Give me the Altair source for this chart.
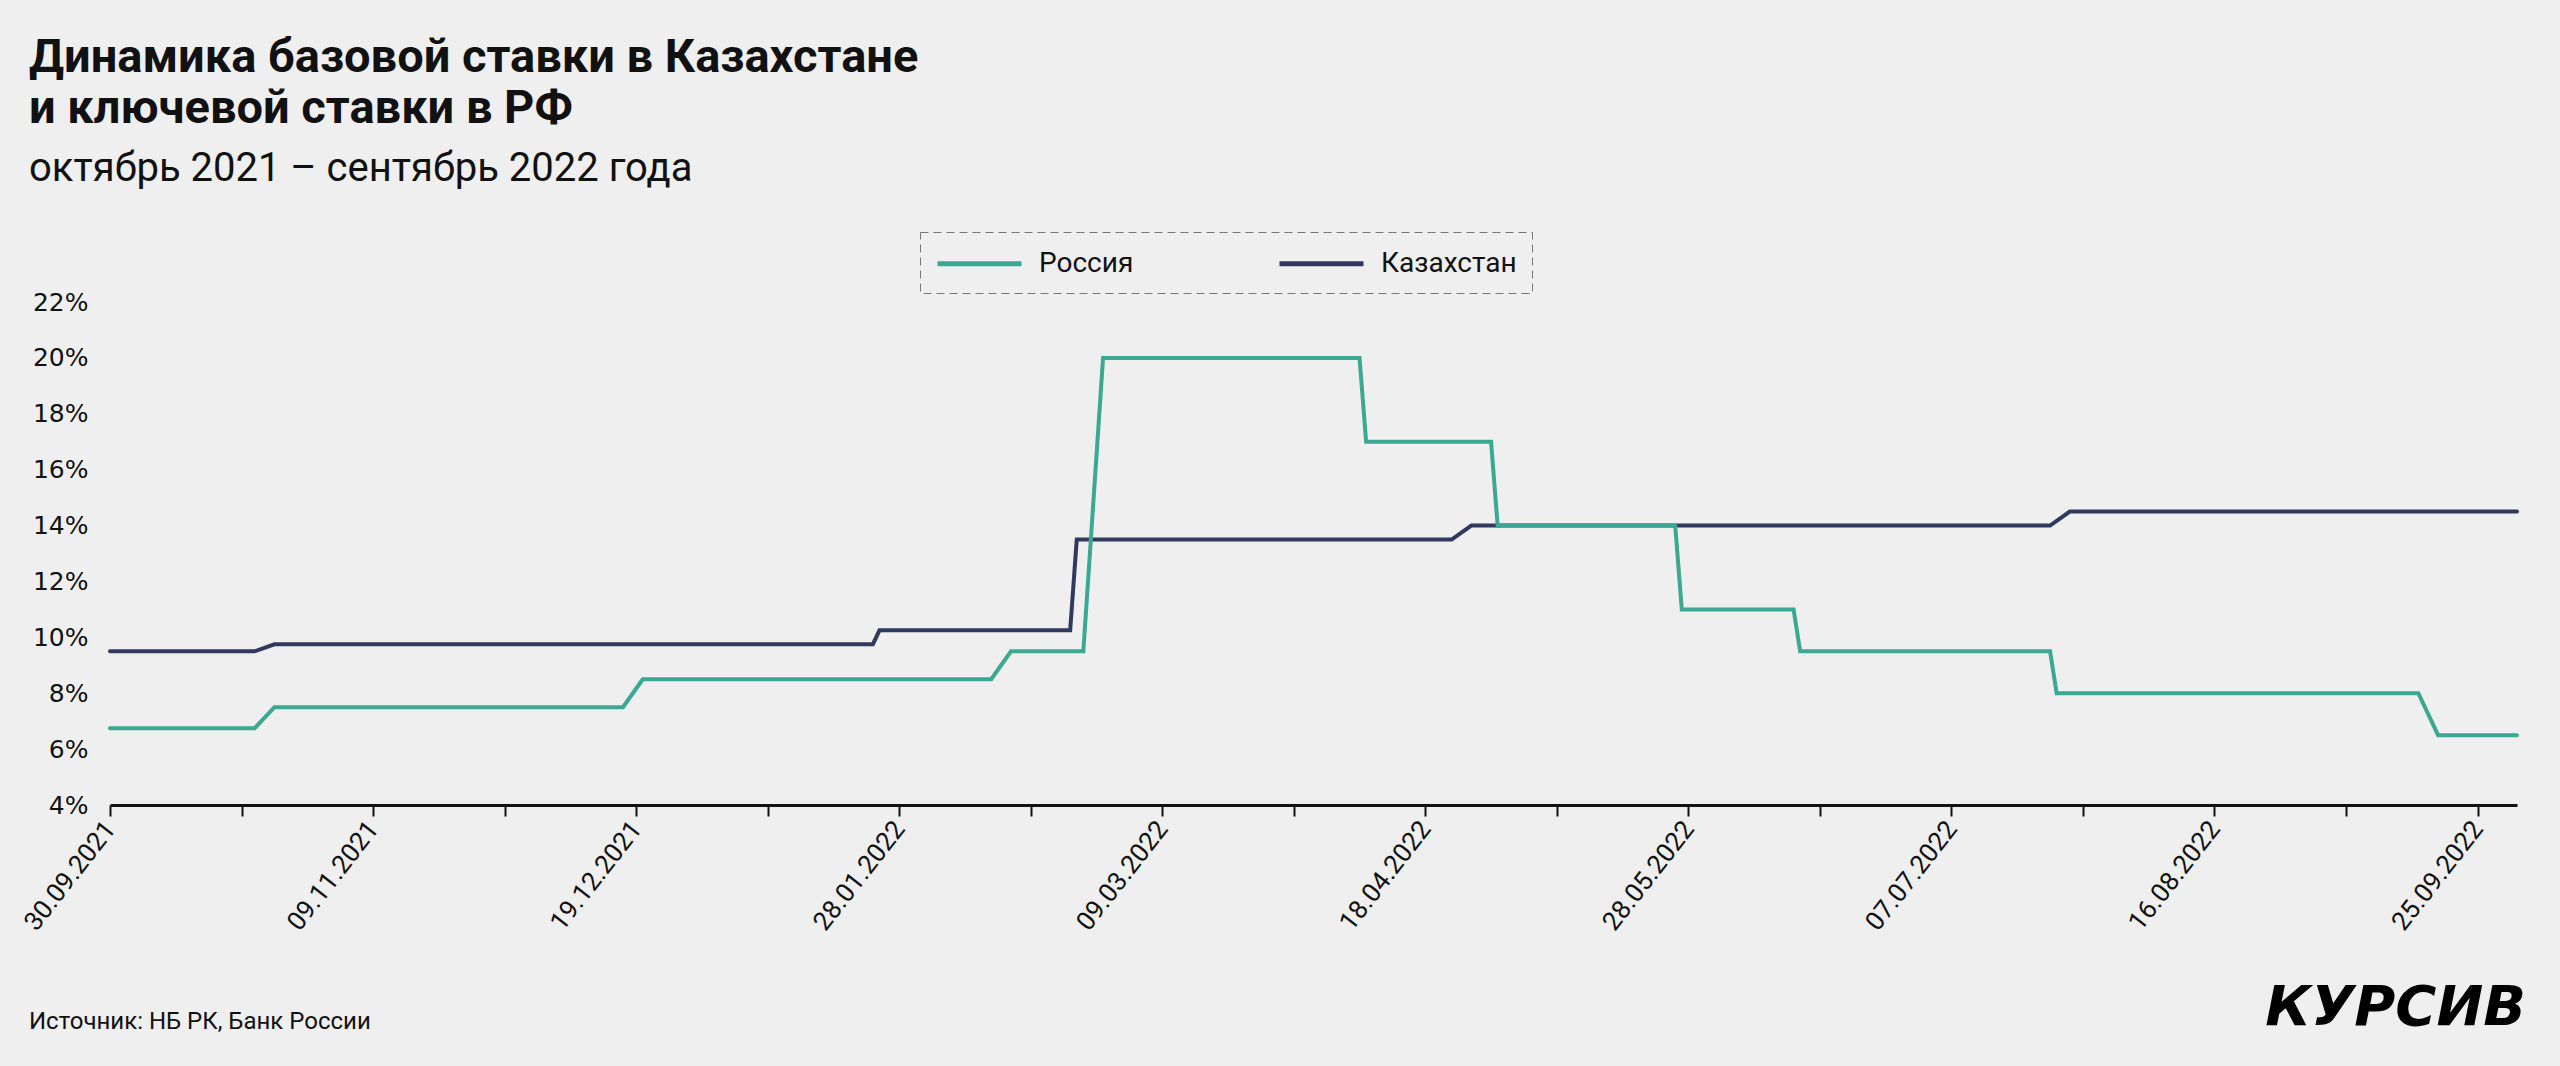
import json
import altair as alt
import pandas as pd

# ---------------- text ----------------
title_lines = ["Динамика базовой ставки в Казахстане", "и ключевой ставки в РФ"]
subtitle_text = "октябрь 2021 – сентябрь 2022 года"
source_text = "Источник: НБ РК, Банк России"
logo_text = "КУРСИВ"

# ---------------- series ----------------
series_names = ["Россия", "Казахстан"]
series_colors = ["#3aa892", "#2f3a5e"]

russia_dates = ["2021-09-30", "2021-10-22", "2021-10-25", "2021-12-17", "2021-12-20",
                "2022-02-11", "2022-02-14", "2022-02-25", "2022-02-28", "2022-04-08",
                "2022-04-09", "2022-04-28", "2022-04-29", "2022-05-26", "2022-05-27",
                "2022-06-13", "2022-06-14", "2022-07-22", "2022-07-23", "2022-09-16",
                "2022-09-19", "2022-10-01"]
russia_values = [6.75, 6.75, 7.5, 7.5, 8.5,
                 8.5, 9.5, 9.5, 20, 20,
                 17, 17, 14, 14, 11,
                 11, 9.5, 9.5, 8, 8,
                 6.5, 6.5]

kaz_dates = ["2021-09-30", "2021-10-22", "2021-10-25", "2022-01-24", "2022-01-25",
             "2022-02-23", "2022-02-24", "2022-04-22", "2022-04-25", "2022-07-22",
             "2022-07-25", "2022-10-01"]
kaz_values = [9.5, 9.5, 9.75, 9.75, 10.25,
              10.25, 13.5, 13.5, 14, 14,
              14.5, 14.5]

# ---------------- axes ----------------
x_domain = ["2021-09-30", "2022-10-01"]
tick_dates = ["2021-09-30", "2021-10-20", "2021-11-09", "2021-11-29", "2021-12-19",
              "2022-01-08", "2022-01-28", "2022-02-17", "2022-03-09", "2022-03-29",
              "2022-04-18", "2022-05-08", "2022-05-28", "2022-06-17", "2022-07-07",
              "2022-07-27", "2022-08-16", "2022-09-05", "2022-09-25"]
tick_labels = ["30.09.2021", "09.11.2021", "19.12.2021", "28.01.2022", "09.03.2022",
               "18.04.2022", "28.05.2022", "07.07.2022", "16.08.2022", "25.09.2022"]
y_ticks = [4, 6, 8, 10, 12, 14, 16, 18, 20, 22]
y_domain = [4, 22]


def dt(s):
    y, m, d = (int(p) for p in s.split("-"))
    return alt.DateTime(year=y, month=m, date=d, utc=True)


df_ru = pd.DataFrame({"date": russia_dates, "rate": russia_values, "country": series_names[0]})
df_kz = pd.DataFrame({"date": kaz_dates, "rate": kaz_values, "country": series_names[1]})

label_expr = ("indexof(" + json.dumps(tick_labels) + ", utcFormat(datum.value, '%d.%m.%Y')) >= 0"
              " ? utcFormat(datum.value, '%d.%m.%Y') : ''")

x_enc = alt.X(
    "date:T",
    scale=alt.Scale(type="utc", domain=[dt(x_domain[0]), dt(x_domain[1])]),
    axis=alt.Axis(
        values=[dt(s) for s in tick_dates],
        labelExpr=label_expr,
        labelAngle=308,
        labelAlign="right",
        labelBaseline="middle",
        labelFont="Roboto",
        labelFontSize=26,
        labelColor="#111111",
        labelPadding=8,
        labelOverlap=False,
        labelFlush=False,
        tickSize=11,
        tickWidth=2,
        tickColor="#111111",
        domainColor="#111111",
        domainWidth=3,
        grid=False,
        title=None,
    ),
)

y_enc = alt.Y(
    "rate:Q",
    scale=alt.Scale(domain=y_domain, nice=False, zero=False),
    axis=alt.Axis(
        values=y_ticks,
        labelExpr="datum.value + '%'",
        domain=False,
        ticks=False,
        grid=False,
        labelFont="DejaVu Sans",
        labelFontSize=25,
        labelColor="#111111",
        labelPadding=22,
        title=None,
    ),
)

color_enc = alt.Color(
    "country:N",
    scale=alt.Scale(domain=series_names, range=series_colors),
    legend=alt.Legend(
        orient="none",
        legendX=810,
        legendY=-70,
        direction="horizontal",
        title=None,
        symbolType="M-1,0H5",
        symbolSize=784,
        symbolStrokeWidth=5,
        labelOffset=71,
        labelFont="Roboto",
        labelFontSize=28,
        labelColor="#111111",
        labelLimit=400,
        columnPadding=135,
        padding=15,
    ),
)

line_props = dict(strokeWidth=4, strokeJoin="miter", strokeCap="round")

kz_line = alt.Chart(df_kz).mark_line(**line_props).encode(x=x_enc, y=y_enc, color=color_enc)
ru_line = alt.Chart(df_ru).mark_line(**line_props).encode(x=x_enc, y=y_enc, color=color_enc)

src = alt.Chart(pd.DataFrame({"t": [source_text]})).mark_text(
    align="left", baseline="middle", font="Roboto", fontSize=24, color="#111111"
).encode(text="t:N", x=alt.value(-81), y=alt.value(720))

logo = alt.Chart(pd.DataFrame({"t": [logo_text]})).mark_text(
    align="right", baseline="middle", font="DejaVu Sans", fontSize=56,
    fontWeight="bold", fontStyle="italic", color="#000000"
).encode(text="t:N", x=alt.value(2416), y=alt.value(706))

chart = alt.layer(kz_line, ru_line, src, logo).properties(
    width=2407,
    height=503,
    autosize=alt.AutoSizeParams(type="none"),
    padding={"left": 110, "top": 302, "right": 43, "bottom": 261},
    title=alt.TitleParams(
        text=title_lines,
        subtitle=subtitle_text,
        anchor="start",
        frame="group",
        dx=-81,
        offset=42,
        font="Roboto",
        fontSize=47,
        fontWeight="bold",
        color="#111111",
        lineHeight=51,
        subtitleFont="Roboto",
        subtitleFontSize=40,
        subtitleColor="#111111",
        subtitlePadding=16,
    ),
).configure(
    background="#efefef"
).configure_view(
    stroke=None
).configure_legend(
    strokeColor="#777777",
    strokeDash=[8, 5],
    strokeWidth=1,
)

chart.save("out.html", embed_options={"renderer": "svg", "actions": False})
